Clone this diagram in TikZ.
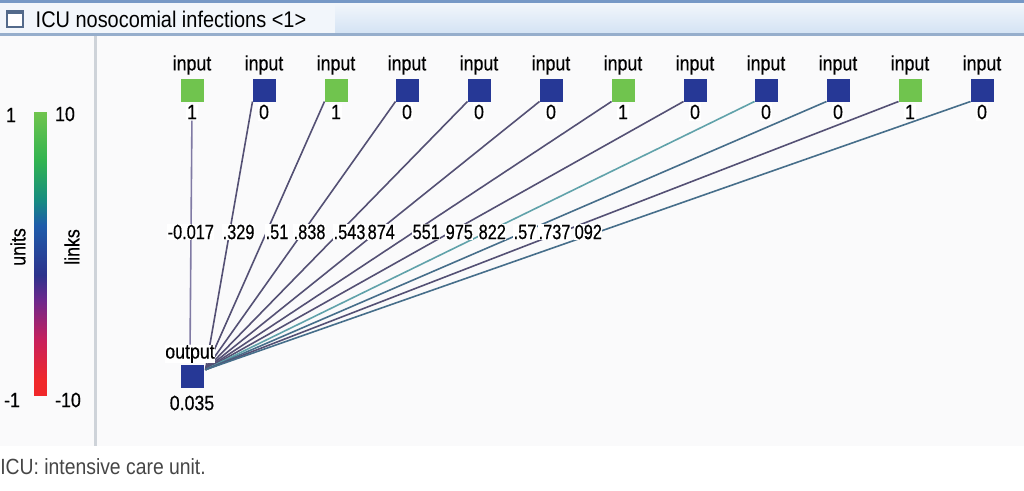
\documentclass[tikz,border=0pt]{standalone}
\usepackage{fontspec}
\setmainfont{Liberation Sans}[FakeStretch=0.88]
\newfontfamily\netfont{Liberation Sans}[FakeStretch=0.86, FakeBold=0.5]
\newfontfamily\wtfont{Liberation Sans}[FakeStretch=0.79, FakeBold=0.5]
\usetikzlibrary{positioning}

\definecolor{greenunit}{RGB}{112,196,78}
\definecolor{blueunit}{RGB}{38,56,150}
\definecolor{slatelink}{RGB}{84,80,116}
\definecolor{palelink}{RGB}{128,122,164}
\definecolor{teallink}{RGB}{96,162,170}
\definecolor{deeplink}{RGB}{70,110,138}
\definecolor{winbg}{RGB}{250,250,251}
\definecolor{framegray}{RGB}{206,211,217}
\definecolor{titleblue}{RGB}{118,152,198}
\definecolor{titleline}{RGB}{150,174,204}
\definecolor{titlelight}{RGB}{242,246,251}
\definecolor{titledeep}{RGB}{212,227,244}
\definecolor{captiongray}{RGB}{70,70,70}

\definecolor{barred}{RGB}{240,40,42}
\definecolor{barmagenta}{RGB}{200,32,92}
\definecolor{barpurple}{RGB}{108,40,140}
\definecolor{bardeep}{RGB}{44,50,140}
\definecolor{barblue}{RGB}{30,92,170}
\definecolor{barteal}{RGB}{22,140,128}
\definecolor{bargreen}{RGB}{50,180,80}
\definecolor{barlight}{RGB}{112,196,78}

\pgfdeclareverticalshading{linkbar}{25bp}{color(0bp)=(barred); color(27.7bp)=(barred);
  color(34.7bp)=(barmagenta); color(41.8bp)=(barpurple); color(46.2bp)=(bardeep);
  color(55bp)=(barblue); color(59.5bp)=(barteal); color(66.5bp)=(bargreen);
  color(75bp)=(barlight); color(100bp)=(barlight)}

\pgfdeclarelayer{back}
\pgfdeclarelayer{wires}
\pgfsetlayers{back,wires,main}

\tikzset{
  unit/.style={minimum size=17.25pt, inner sep=0pt, outer sep=0pt},
  greenbox/.style={unit, fill=greenunit},
  bluebox/.style={unit, fill=blueunit},
  tag/.style={font=\netfont\fontsize{15.5}{17}\selectfont, inner sep=1pt},
  val/.style={tag, fill=white},
  wt/.style={font=\wtfont\fontsize{15.5}{17}\selectfont, fill=white, inner sep=0.3pt, anchor=west},
  link/.style={line width=1.2pt, slatelink},
}

\begin{document}
\begin{tikzpicture}[x=0.75pt, y=-0.75pt]
\useasboundingbox (0,0) rectangle (1024,490);

\begin{pgfonlayer}{back}
\fill[white] (0,0) rectangle (1024,490);
\fill[winbg] (0,35) rectangle (1024,446);
\shade[top color=titlelight, bottom color=titledeep] (0,3) rectangle (1024,33);
\fill[titlelight] (0,3) rectangle (335,33);
\fill[titleblue] (0,0) rectangle (1024,3);
\fill[titleline] (0,33) rectangle (1024,36);
\fill[framegray] (94,36) rectangle (97,446);
\draw[titleblue!70!black, fill=white, line width=0.8pt] (7,11) rectangle (23,27);
\fill[titleblue!70!black] (7,11) rectangle (23,14);
\shade[shading=linkbar] (28,112) rectangle (53,395);
\end{pgfonlayer}

\node[anchor=west, font=\fontsize{17}{19}\selectfont] (title) at (31,19) {ICU nosocomial infections <1>};

\node[tag] (unitmax) at (11,115) {1};
\node[tag] (linkmax) at (65,114) {10};
\node[tag] (unitmin) at (12,400) {-1};
\node[tag] (linkmin) at (68,400) {-10};
\node[tag, rotate=90] (unitname) at (18,247) {units};
\node[tag, rotate=90] (linkname) at (72,247) {links};

\node[greenbox] (in1) at (192,90) {};
\node[bluebox] (in2) at (264,90) {};
\node[greenbox] (in3) at (336,90) {};
\node[bluebox] (in4) at (407,90) {};
\node[bluebox] (in5) at (479,90) {};
\node[bluebox] (in6) at (551,90) {};
\node[greenbox] (in7) at (623,90) {};
\node[bluebox] (in8) at (695,90) {};
\node[bluebox] (in9) at (766,90) {};
\node[bluebox] (in10) at (838,90) {};
\node[greenbox] (in11) at (910,90) {};
\node[bluebox] (in12) at (982,90) {};

\node[tag] (name1) at (192,65) {input};
\node[tag] (name2) at (264,65) {input};
\node[tag] (name3) at (336,65) {input};
\node[tag] (name4) at (407,65) {input};
\node[tag] (name5) at (479,65) {input};
\node[tag] (name6) at (551,65) {input};
\node[tag] (name7) at (623,65) {input};
\node[tag] (name8) at (695,65) {input};
\node[tag] (name9) at (766,65) {input};
\node[tag] (name10) at (838,65) {input};
\node[tag] (name11) at (910,65) {input};
\node[tag] (name12) at (982,65) {input};

\node[val] (v1) at (192,112) {1};
\node[val] (v2) at (264,112) {0};
\node[val] (v3) at (336,112) {1};
\node[val] (v4) at (407,112) {0};
\node[val] (v5) at (479,112) {0};
\node[val] (v6) at (551,112) {0};
\node[val] (v7) at (623,112) {1};
\node[val] (v8) at (695,112) {0};
\node[val] (v9) at (766,112) {0};
\node[val] (v10) at (838,112) {0};
\node[val] (v11) at (910,112) {1};
\node[val] (v12) at (982,112) {0};

\node[bluebox] (out) at (192,376.5) {};
\node[val, inner sep=0.3pt] (outname) at (190,354) {output};
\node[tag] (outval) at (192,403) {0.035};
\coordinate (hub) at ([xshift=1.5pt, yshift=-3.5pt]out.north east);

\node[wt] (w1) at (167,232) {-0.017};
\node[wt] (w2) at (222,232) {.329};
\node[wt] (w3) at (265,232) {.51};
\node[wt] (w4) at (293,232) {.838};
\node[wt] (w5) at (333,232) {.543};
\node[wt] (w6) at (367,232) {874};
\node[wt] (w7) at (412,232) {551};
\node[wt] (w8) at (445,232) {975};
\node[wt] (w9) at (478,232) {822};
\node[wt] (w10) at (513,232) {.57};
\node[wt] (w11) at (538,232) {.737};
\node[wt] (w12) at (574,232) {092};

\begin{pgfonlayer}{wires}
\draw[link, palelink] (v1) -- (outname);
\draw[link] (in2.south west) -- (hub);
\draw[link] (in3.south west) -- (hub);
\draw[link] (in4.south west) -- (hub);
\draw[link] (in5.south west) -- (hub);
\draw[link] (in6.south west) -- (hub);
\draw[link] (in7.south west) -- (hub);
\draw[link] (in8.south west) -- (hub);
\draw[link, teallink] (in9.south west) -- (hub);
\draw[link, deeplink] (in10.south west) -- (hub);
\draw[link] (in11.south west) -- (hub);
\draw[link, deeplink] (in12.south west) -- (hub);
\end{pgfonlayer}

\node[anchor=west, inner sep=0pt, text=captiongray, font=\fontsize{16.5}{18}\selectfont] (caption) at (0,467) {ICU: intensive care unit.};

\end{tikzpicture}
\end{document}
